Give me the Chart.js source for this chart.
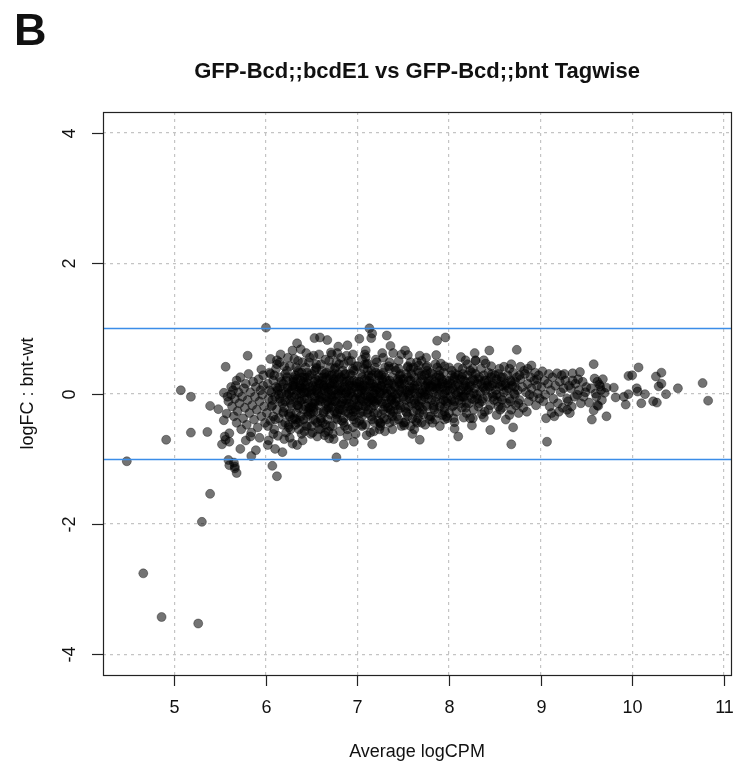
<!DOCTYPE html>
<html>
<head>
<meta charset="utf-8">
<script src="https://cdn.jsdelivr.net/npm/chart.js@4/dist/chart.umd.min.js"></script>
<style>
  html, body { margin: 0; padding: 0; background: #fff; }
  #wrap { width: 749px; height: 767px; }
</style>
</head>
<body>
<div id="wrap"><canvas id="maPlot" width="749" height="767"></canvas></div>
<script>
const panelLetter = "B";
const plotTitle = "GFP-Bcd;;bcdE1 vs GFP-Bcd;;bnt Tagwise";
const xTitle = "Average logCPM";
const yTitle = "logFC : bnt-wt";
const xTicks = [5, 6, 7, 8, 9, 10, 11];
const yTicks = [-4, -2, 0, 2, 4];
const foldLines = [-1, 1];

// average logCPM of each tag
const logCPM = [
  4.48,4.66,4.86,4.91,5.07,5.18,5.18,5.26,5.30,5.36,
  5.39,5.39,5.48,5.54,5.54,5.56,5.57,5.58,5.59,5.59,
  5.60,5.55,5.56,5.60,5.52,5.65,5.60,5.66,5.68,5.66,
  5.68,5.72,5.78,5.83,5.84,5.89,5.80,5.95,6.00,5.62,
  5.62,5.63,5.64,5.65,5.66,5.67,5.68,5.69,5.70,5.71,
  5.72,5.73,5.74,5.75,5.76,5.77,5.78,5.79,5.80,5.81,
  5.82,5.83,5.84,5.85,5.86,5.87,5.88,5.89,5.90,5.91,
  5.92,5.93,5.94,5.95,5.96,5.97,5.98,5.99,5.97,5.93,
  6.01,6.02,6.03,6.04,6.05,6.06,6.07,6.08,6.09,6.10,
  6.11,6.12,6.13,6.14,6.15,6.16,6.17,6.18,6.19,6.20,
  6.21,6.22,6.23,6.24,6.25,6.26,6.27,6.28,6.29,6.30,
  6.02,6.04,6.06,6.08,6.11,6.13,6.15,6.17,6.19,6.21,
  6.23,6.25,6.27,6.29,6.12,6.22,6.18,6.26,6.09,6.14,
  6.05,6.12,6.16,6.07,6.12,6.03,6.02,6.18,6.29,6.34,
  6.29,6.31,6.34,6.38,6.20,6.10,6.24,6.08,6.26,6.15,
  6.31,6.32,6.33,6.34,6.35,6.36,6.37,6.38,6.39,6.40,
  6.41,6.42,6.43,6.44,6.45,6.46,6.47,6.48,6.49,6.50,
  6.51,6.52,6.53,6.54,6.55,6.56,6.57,6.58,6.59,6.60,
  6.32,6.34,6.36,6.38,6.40,6.42,6.44,6.46,6.48,6.50,
  6.52,6.54,6.56,6.58,6.60,6.33,6.37,6.41,6.45,6.49,
  6.53,6.57,6.35,6.47,6.55,6.39,6.51,6.43,6.59,6.31,
  6.49,6.60,6.53,6.59,6.44,6.52,6.40,6.56,6.48,6.36,
  6.61,6.62,6.63,6.64,6.65,6.66,6.67,6.68,6.69,6.70,
  6.71,6.72,6.73,6.74,6.75,6.76,6.77,6.78,6.79,6.80,
  6.81,6.82,6.83,6.84,6.85,6.86,6.87,6.88,6.89,6.90,
  6.91,6.92,6.93,6.94,6.95,6.96,6.97,6.98,6.99,7.00,
  6.62,6.64,6.66,6.68,6.70,6.72,6.74,6.76,6.78,6.80,
  6.82,6.84,6.86,6.88,6.90,6.92,6.94,6.96,6.98,6.63,
  6.67,6.71,6.75,6.79,6.83,6.87,6.91,6.95,6.99,6.65,
  6.69,6.73,6.77,6.81,6.85,6.89,6.93,6.97,6.72,6.64,
  6.69,6.71,6.79,6.89,6.85,6.77,6.67,6.74,6.95,6.82,
  7.01,7.02,7.03,7.04,7.05,7.06,7.07,7.08,7.09,7.10,
  7.11,7.12,7.13,7.14,7.15,7.16,7.17,7.18,7.19,7.20,
  7.21,7.22,7.23,7.24,7.25,7.26,7.27,7.28,7.29,7.30,
  7.31,7.32,7.33,7.34,7.35,7.36,7.37,7.38,7.39,7.40,
  7.41,7.42,7.43,7.44,7.45,7.46,7.47,7.48,7.49,7.50,
  7.02,7.04,7.06,7.08,7.10,7.12,7.14,7.16,7.18,7.20,
  7.22,7.24,7.26,7.28,7.30,7.32,7.34,7.36,7.38,7.40,
  7.42,7.44,7.46,7.48,7.03,7.07,7.11,7.15,7.19,7.23,
  7.13,7.16,7.15,7.02,7.32,7.36,7.39,7.27,7.09,7.09,
  7.11,7.10,7.16,6.96,7.25,7.18,7.05,7.21,7.45,7.30,
  7.51,7.52,7.53,7.54,7.55,7.56,7.57,7.58,7.59,7.60,
  7.61,7.62,7.63,7.64,7.65,7.66,7.67,7.68,7.69,7.70,
  7.71,7.72,7.73,7.74,7.75,7.76,7.77,7.78,7.79,7.80,
  7.81,7.82,7.83,7.84,7.85,7.86,7.87,7.88,7.89,7.90,
  7.91,7.92,7.93,7.94,7.95,7.96,7.97,7.98,7.99,8.00,
  7.53,7.57,7.61,7.65,7.69,7.73,7.77,7.81,7.85,7.89,
  7.93,7.97,7.55,7.63,7.71,7.79,7.87,7.95,7.52,7.55,
  7.87,7.96,7.86,7.91,7.67,7.76,7.68,7.51,7.52,7.74,
  7.93,7.98,7.66,7.58,7.82,7.62,7.70,7.90,7.75,7.60,
  8.01,8.02,8.03,8.04,8.05,8.06,8.07,8.08,8.09,8.10,
  8.11,8.12,8.13,8.14,8.15,8.16,8.17,8.18,8.19,8.20,
  8.21,8.22,8.23,8.24,8.25,8.26,8.27,8.28,8.29,8.30,
  8.31,8.32,8.33,8.34,8.35,8.36,8.37,8.38,8.39,8.40,
  8.41,8.42,8.43,8.44,8.45,8.46,8.47,8.48,8.49,8.50,
  8.03,8.07,8.11,8.15,8.19,8.23,8.27,8.31,8.35,8.39,
  8.43,8.47,8.13,8.18,8.29,8.06,8.10,8.06,8.16,8.23,
  8.44,8.28,8.29,8.38,8.40,8.45,8.26,8.25,8.38,8.20,
  8.51,8.52,8.53,8.54,8.55,8.56,8.57,8.58,8.59,8.60,
  8.62,8.63,8.64,8.65,8.66,8.67,8.68,8.69,8.70,8.71,
  8.72,8.73,8.74,8.75,8.77,8.78,8.80,8.81,8.83,8.84,
  8.86,8.87,8.89,8.90,8.92,8.93,8.95,8.96,8.98,8.99,
  8.52,8.66,8.74,8.60,8.68,8.78,8.90,8.70,8.68,8.55,
  8.58,8.76,8.85,8.94,8.62,8.82,8.88,8.72,8.54,8.97,
  9.02,9.18,9.26,9.35,9.43,9.07,9.06,9.20,9.29,9.29,
  9.37,9.33,9.35,9.49,9.53,9.56,9.62,9.58,9.01,9.03,
  9.04,9.05,9.08,9.10,9.11,9.13,9.14,9.16,9.19,9.21,
  9.22,9.24,9.25,9.27,9.30,9.31,9.34,9.38,9.40,9.42,
  9.44,9.46,9.47,9.50,9.12,9.23,9.09,9.15,9.32,9.41,
  9.59,9.68,9.62,9.65,9.72,9.80,9.60,9.70,9.82,9.91,
  9.96,9.63,9.58,9.72,9.93,9.96,10.00,10.07,10.05,10.06,
  10.14,10.10,10.23,10.27,10.26,10.32,10.29,10.32,10.37,10.50,
  10.77,10.83,9.66,9.64,9.61,9.55,9.67,
  // dense core
  6.21,6.24,6.27,6.30,6.33,6.36,6.39,6.42,6.45,6.48,
  6.51,6.54,6.57,6.60,6.63,6.66,6.69,6.72,6.75,6.78,
  6.81,6.84,6.87,6.90,6.93,6.96,6.99,7.02,7.05,7.08,
  7.11,7.14,7.17,7.20,7.23,7.26,7.29,7.32,7.35,7.38,
  7.41,7.44,7.47,7.50,7.53,7.56,7.59,7.62,7.65,7.68,
  7.71,7.74,7.77,7.80,7.83,7.86,7.89,7.92,7.95,7.98,
  8.01,8.04,8.07,8.10,8.13,8.16,8.19,8.22,8.25,8.28,
  6.22,6.26,6.30,6.34,6.38,6.42,6.46,6.50,6.54,6.58,
  6.62,6.66,6.70,6.74,6.78,6.82,6.86,6.90,6.94,6.98,
  7.02,7.06,7.10,7.14,7.18,7.22,7.26,7.30,7.34,7.38,
  7.42,7.46,7.50,7.54,7.58,7.62,7.66,7.70,7.74,7.78,
  7.82,7.86,7.90,7.94,7.98,8.02,8.06,8.10,8.14,8.18,
  6.23,6.28,6.33,6.38,6.43,6.48,6.53,6.58,6.63,6.68,
  6.73,6.78,6.83,6.88,6.93,6.98,7.03,7.08,7.13,7.18,
  7.23,7.28,7.33,7.38,7.43,7.48,7.53,7.58,7.63,7.68,
  7.73,7.78,7.83,7.88,7.93,7.98,8.03,8.08,8.13,8.18,
  8.23,8.28,8.33,8.38,8.43,8.48,8.53,8.58,8.63,8.68,
  6.25,6.35,6.45,6.55,6.65,6.75,6.85,6.95,7.05,7.15,
  7.25,7.35,7.45,7.55,7.65,7.75,7.85,7.95,8.05,8.15,
  6.64,6.68,6.72,6.76,6.80,6.84,6.88,6.92,6.96,7.00,
  7.04,7.08,7.12,7.16,7.20,7.24,7.28,7.32,7.36,7.40,
  6.32,6.37,6.41,6.46,6.52,6.56,6.61,6.67,6.72,6.77,
  8.32,8.37,8.42,8.47,8.52,8.57,8.62,8.67,8.72,8.77,
  // wider part of the main cloud
  6.05,6.10,6.15,6.20,6.25,6.30,6.35,6.40,6.45,6.50,
  6.55,6.60,6.65,6.70,6.75,6.80,6.85,6.90,6.95,7.00,
  7.05,7.10,7.15,7.20,7.25,7.30,7.35,7.40,7.45,7.50,
  7.55,7.60,7.65,7.70,7.75,7.80,7.85,7.90,7.95,8.00,
  6.07,6.13,6.19,6.28,6.37,6.44,6.53,6.62,6.71,6.81,
  6.91,7.01,7.09,7.17,7.27,7.37,7.47,7.57,7.67,7.77,
  6.31,6.39,6.47,6.56,6.66,6.76,6.86,6.96,7.06,7.16,
  7.26,7.36,7.46,7.56,7.66,7.76,7.86,7.96,8.06,8.16,
  8.26,8.36,8.46,8.56,8.66,8.76,8.86,8.96,6.58,6.68,
  6.78,6.88,6.98,7.08,7.18,7.28,7.38,7.48,7.58,7.68
];

// log fold change of each tag, same order as logCPM
const logFC = [
  -1.04,-2.76,-3.43,-0.71,0.05,-0.05,-0.60,-3.53,-1.97,-0.59,
  -1.54,-0.19,-0.24,0.01,-0.41,0.41,-0.31,-0.05,-0.12,-1.02,
  -0.61,-0.66,-0.71,-0.74,-0.78,-1.06,-1.10,-1.15,0.20,-1.12,
  -1.22,-0.85,-0.72,-0.66,-0.96,-0.87,0.58,0.37,1.01,0.10,
  -0.02,-0.20,0.05,-0.35,-0.08,0.12,-0.45,-0.27,0.02,-0.15,
  0.25,-0.55,-0.05,-0.38,0.08,-0.22,0.15,-0.48,-0.10,0.30,
  -0.30,0.02,-0.60,-0.18,0.18,-0.40,-0.05,0.10,-0.25,-0.52,
  0.22,-0.12,0.05,-0.35,-0.02,0.28,-0.20,-0.45,0.12,-0.68,
  -0.30,0.15,-0.08,0.32,-0.42,0.02,-0.18,0.20,-0.55,-0.05,
  0.38,-0.25,0.08,-0.38,0.25,-0.12,0.00,-0.48,0.15,-0.22,
  0.30,-0.60,-0.02,0.10,-0.32,0.42,-0.15,0.05,-0.40,0.22,
  -0.50,0.05,-0.20,-0.35,0.10,-0.65,-0.08,0.18,-0.28,-0.45,
  0.35,0.00,-0.55,0.12,0.45,0.20,-0.15,-0.10,0.28,-0.02,
  0.53,0.51,0.60,-1.11,-1.27,-0.72,-0.79,-0.90,-0.77,-0.79,
  0.66,0.53,0.77,0.68,-0.70,-0.85,0.55,-0.62,-0.68,0.48,
  -0.05,0.18,-0.30,0.05,-0.18,0.32,-0.42,0.10,-0.10,0.25,
  -0.25,0.02,0.40,-0.50,-0.08,0.15,-0.32,0.28,-0.02,-0.20,
  0.12,-0.40,0.35,-0.12,0.05,-0.28,0.20,-0.55,-0.05,0.45,
  -0.48,0.22,-0.08,-0.35,0.08,-0.58,0.18,-0.15,0.00,0.30,
  -0.22,0.10,-0.45,0.25,-0.12,0.40,0.12,-0.40,0.25,-0.30,
  -0.05,-0.18,0.50,0.48,0.40,-0.62,-0.60,-0.20,0.15,0.10,
  -0.62,-0.54,0.85,0.86,0.62,0.58,-0.72,-0.66,0.55,-0.55,
  -0.02,0.20,-0.28,0.08,-0.15,0.32,-0.40,0.02,-0.08,0.15,
  -0.22,0.28,-0.50,0.05,-0.12,0.40,-0.32,0.12,-0.02,0.22,
  -0.18,0.00,-0.42,0.35,-0.08,0.10,-0.28,0.18,-0.55,0.05,
  -0.15,0.30,-0.35,0.08,-0.05,0.20,-0.22,0.42,-0.45,0.00,
  -0.45,0.30,-0.05,-0.22,0.40,-0.10,0.18,-0.38,-0.15,0.05,
  0.25,-0.25,-0.50,0.02,-0.30,0.12,-0.18,0.35,-0.08,0.12,
  0.22,0.05,-0.28,0.30,0.10,0.00,0.20,-0.35,0.15,-0.60,
  0.50,-0.62,0.48,-0.58,0.45,-0.65,0.50,-0.10,0.60,-0.64,
  -0.69,0.63,0.72,0.74,-0.78,-0.98,0.82,-0.70,0.60,0.55,
  -0.20,0.18,-0.05,0.30,-0.35,0.08,-0.12,0.22,-0.48,0.02,
  0.35,-0.25,0.10,-0.08,0.25,-0.40,0.05,-0.18,0.40,-0.02,
  0.15,-0.30,0.28,-0.55,0.00,0.12,-0.15,0.32,-0.38,0.08,
  -0.05,0.20,-0.22,0.42,-0.45,0.05,-0.10,0.25,-0.28,0.12,
  -0.02,0.35,-0.35,0.00,0.18,-0.18,0.30,-0.50,0.08,-0.08,
  -0.42,0.05,-0.28,0.45,-0.15,0.28,-0.60,0.15,0.00,0.32,
  -0.10,0.20,-0.32,0.05,-0.20,-0.40,0.15,-0.25,-0.05,0.40,
  -0.18,0.22,0.05,0.15,0.12,0.38,-0.05,-0.22,0.10,-0.08,
  1.00,0.92,0.85,0.84,0.89,0.73,0.62,0.62,0.66,0.56,
  0.46,-0.64,-0.78,-0.74,-0.46,-0.44,0.52,0.48,0.50,-0.58,
  0.15,-0.22,0.30,0.02,-0.35,0.20,-0.08,0.38,-0.15,0.08,
  -0.28,0.25,0.00,-0.42,0.12,-0.05,0.32,-0.20,0.18,-0.10,
  0.05,-0.32,0.28,0.10,-0.18,0.35,-0.02,0.20,-0.40,0.12,
  -0.10,0.30,0.02,-0.25,0.18,-0.05,0.40,-0.30,0.08,0.25,
  -0.15,0.15,-0.02,0.32,-0.22,0.05,0.20,-0.08,0.12,-0.30,
  -0.10,0.10,0.40,-0.25,0.00,-0.05,0.15,0.22,-0.12,0.28,
  0.10,-0.35,0.25,-0.15,0.22,0.05,0.15,0.00,0.66,0.59,
  0.81,0.86,0.59,0.46,0.43,0.42,-0.71,-0.49,-0.44,-0.48,
  -0.33,-0.38,-0.38,0.48,-0.45,-0.55,0.50,-0.50,0.55,-0.62,
  0.20,-0.05,0.35,0.08,-0.18,0.25,0.02,-0.28,0.15,0.40,
  -0.10,0.22,0.05,-0.22,0.30,0.10,-0.02,0.18,-0.30,0.28,
  0.05,-0.15,0.35,0.12,-0.08,0.22,-0.25,0.08,0.30,-0.02,
  0.15,-0.20,0.25,0.02,0.38,-0.12,0.10,0.28,-0.28,0.05,
  0.20,-0.05,0.32,0.10,-0.18,0.25,0.00,0.15,-0.10,0.28,
  -0.10,0.30,0.12,-0.05,0.05,0.18,0.00,-0.08,0.15,0.20,
  -0.25,0.12,0.56,0.51,0.51,-0.54,-0.66,-0.44,-0.37,-0.38,
  0.66,0.62,0.50,0.51,0.46,-0.56,-0.38,-0.49,-0.37,0.45,
  0.05,0.22,-0.12,0.30,0.10,-0.05,0.18,-0.22,0.25,0.02,
  0.15,-0.15,0.28,0.08,-0.08,0.20,-0.25,0.12,0.32,0.00,
  0.18,-0.18,0.25,0.05,-0.10,0.22,0.10,-0.22,0.30,0.02,
  0.15,-0.12,0.25,0.08,-0.05,0.20,-0.18,0.12,0.28,-0.08,
  -0.33,-0.33,0.67,0.41,0.45,0.41,0.43,-0.52,-0.78,0.38,
  0.12,-0.30,-0.28,0.32,-0.40,0.35,-0.02,-0.02,-0.20,0.00,
  0.34,0.31,0.30,0.31,0.33,-0.74,-0.38,-0.28,-0.25,-0.08,
  -0.05,0.08,0.20,0.02,-0.14,-0.40,-0.18,0.45,0.10,-0.12,
  0.20,-0.02,0.15,-0.20,0.05,0.25,-0.08,0.12,-0.15,0.18,
  0.02,-0.22,0.08,0.20,-0.12,0.12,-0.20,0.15,-0.02,0.05,
  -0.15,0.18,-0.05,0.10,-0.30,0.28,0.30,-0.35,-0.30,0.22,
  0.23,0.22,0.18,0.11,0.09,0.09,0.00,0.01,-0.06,-0.05,
  -0.01,-0.19,-0.26,-0.35,-0.17,0.27,0.28,0.40,0.08,0.03,
  -0.01,-0.15,-0.12,-0.14,0.26,0.32,0.11,0.15,-0.01,0.08,
  0.16,-0.11,0.05,0.14,-0.05,0.08,-0.10,
  // dense core
  -0.12,0.08,-0.30,0.18,-0.02,-0.22,0.05,0.25,-0.35,0.10,
  -0.15,0.22,0.00,-0.38,0.12,-0.25,0.28,-0.05,0.15,-0.30,
  0.08,-0.12,0.30,-0.20,0.02,-0.40,0.18,-0.10,0.25,-0.02,
  -0.30,0.15,-0.08,0.05,-0.42,0.28,0.00,-0.15,0.20,-0.35,
  0.10,-0.25,0.22,-0.05,0.05,-0.20,0.30,-0.10,0.18,0.02,
  -0.25,0.12,-0.08,0.32,-0.18,0.08,-0.02,0.22,-0.28,0.15,
  0.05,-0.20,0.12,0.28,-0.05,0.20,-0.15,0.10,0.32,-0.10,
  0.02,-0.35,0.12,-0.18,0.20,-0.08,-0.28,0.05,-0.42,0.15,
  -0.08,0.10,-0.32,0.22,0.00,-0.15,0.18,-0.05,0.28,-0.25,
  0.10,-0.18,0.20,-0.05,-0.30,0.08,-0.12,0.25,-0.22,0.02,
  -0.12,0.15,0.22,-0.30,0.00,0.12,-0.18,0.28,-0.02,-0.35,
  0.10,0.25,-0.20,-0.10,0.05,0.15,-0.12,0.02,0.25,-0.22,
  0.25,-0.05,-0.40,0.00,0.12,-0.22,0.18,-0.10,-0.30,0.08,
  0.15,-0.40,0.05,-0.15,-0.25,0.10,-0.30,0.12,0.20,-0.12,
  0.30,-0.25,0.08,0.15,-0.08,0.02,-0.28,0.20,0.08,-0.30,
  0.02,0.10,-0.22,0.12,0.18,-0.15,0.28,-0.02,-0.15,0.12,
  -0.02,0.20,-0.15,0.08,0.18,-0.05,0.15,-0.10,0.05,0.18,
  -0.48,0.35,-0.50,0.38,-0.48,0.38,-0.45,0.38,-0.48,0.35,
  -0.45,0.38,-0.40,0.40,-0.45,0.40,-0.40,0.42,-0.38,0.38,
  0.05,-0.18,0.12,-0.02,-0.25,0.22,-0.10,0.00,0.12,-0.18,
  -0.08,0.05,-0.12,0.28,-0.15,0.02,0.18,0.00,-0.08,-0.15,
  0.28,-0.12,0.18,0.02,-0.28,0.08,0.35,-0.12,-0.20,0.25,
  0.22,-0.08,0.12,0.30,-0.02,0.25,0.12,-0.12,0.10,0.28,
  // wider part of the main cloud
  0.30,-0.40,0.10,0.42,-0.52,0.25,-0.45,0.48,0.32,-0.50,
  0.45,-0.42,0.52,-0.50,0.30,0.45,-0.38,0.50,-0.52,0.42,
  -0.50,0.45,-0.35,0.52,-0.50,0.40,0.48,-0.42,0.38,-0.45,
  0.42,-0.38,0.48,-0.45,0.30,-0.35,0.45,0.35,-0.40,0.40,
  -0.10,0.05,-0.30,-0.18,0.08,0.02,-0.15,0.25,-0.02,-0.25,
  0.15,0.00,-0.20,0.10,0.22,-0.10,-0.22,0.05,-0.12,0.18,
  -0.38,0.32,-0.22,0.02,0.25,-0.12,0.30,-0.28,0.12,-0.10,
  0.12,-0.30,0.28,-0.02,0.35,-0.20,0.10,-0.12,0.22,-0.05,
  0.38,-0.32,0.42,-0.25,0.38,-0.15,0.38,0.22,0.60,-0.58,
  0.62,0.58,-0.62,0.60,-0.58,0.55,-0.55,0.60,-0.50,0.58
];

const points = logCPM.map((x, i) => ({ x: x, y: logFC[i] }));

const FONT = "'Liberation Sans', Arial, Helvetica, sans-serif";

// R-like decorations: box, ticks, labels, abline(h = +-1)
const rDecor = {
  id: "rDecor",
  afterDatasetsDraw(chart) {
    const ctx = chart.ctx;
    const a = chart.chartArea;
    const ys = chart.scales.y;
    ctx.save();
    ctx.strokeStyle = "#3b8de8";
    ctx.lineWidth = 1.5;
    foldLines.forEach(v => {
      const py = Math.round(ys.getPixelForValue(v)) + 0.5;
      ctx.beginPath();
      ctx.moveTo(a.left, py);
      ctx.lineTo(a.right, py);
      ctx.stroke();
    });
    ctx.restore();
  },
  afterDraw(chart) {
    const ctx = chart.ctx;
    const a = chart.chartArea;
    const xs = chart.scales.x;
    const ys = chart.scales.y;
    ctx.save();
    ctx.strokeStyle = "#222";
    ctx.lineWidth = 1.2;
    ctx.strokeRect(a.left + 0.5, a.top + 0.5, a.right - a.left, a.bottom - a.top);

    ctx.fillStyle = "#111";
    ctx.font = "18px " + FONT;
    ctx.textAlign = "center";
    ctx.textBaseline = "middle";
    xTicks.forEach(v => {
      const px = Math.round(xs.getPixelForValue(v)) + 0.5;
      ctx.beginPath();
      ctx.moveTo(px, a.bottom);
      ctx.lineTo(px, a.bottom + 11);
      ctx.stroke();
      ctx.fillText(String(v), px, a.bottom + 33);
    });
    yTicks.forEach(v => {
      const py = Math.round(ys.getPixelForValue(v)) + 0.5;
      ctx.beginPath();
      ctx.moveTo(a.left, py);
      ctx.lineTo(a.left - 11, py);
      ctx.stroke();
      ctx.save();
      ctx.translate(a.left - 33, py);
      ctx.rotate(-Math.PI / 2);
      ctx.fillText(String(v), 0, 0);
      ctx.restore();
    });

    ctx.fillText(xTitle, (a.left + a.right) / 2, a.bottom + 77);
    ctx.save();
    ctx.translate(a.left - 75, (a.top + a.bottom) / 2);
    ctx.rotate(-Math.PI / 2);
    ctx.fillText(yTitle, 0, 0);
    ctx.restore();

    ctx.font = "bold 22px " + FONT;
    ctx.fillText(plotTitle, (a.left + a.right) / 2, 72);

    ctx.font = "bold 45px " + FONT;
    ctx.textAlign = "left";
    ctx.textBaseline = "alphabetic";
    ctx.fillText(panelLetter, 14, 45);
    ctx.restore();
  }
};

new Chart(document.getElementById("maPlot").getContext("2d"), {
  type: "scatter",
  data: {
    datasets: [
      {
        data: points,
        backgroundColor: "rgba(0, 0, 0, 0.55)",
        borderColor: "rgba(0, 0, 0, 0.35)",
        borderWidth: 1,
        pointRadius: 4.5,
        pointHoverRadius: 4.5,
      },
    ],
  },
  options: {
    responsive: false,
    animation: false,
    devicePixelRatio: 1,
    layout: {
      padding: { top: 112, right: 18, left: 0, bottom: 0 },
    },
    scales: {
      x: {
        type: "linear",
        min: 4.22,
        max: 11.08,
        afterBuildTicks: s => { s.ticks = xTicks.map(v => ({ value: v })); },
        afterFit: s => { s.height = 92; },
        ticks: { display: false },
        grid: { color: "#c4c4c4", lineWidth: 1.2, drawTicks: false },
        border: { display: false, dash: [3, 4] },
      },
      y: {
        type: "linear",
        min: -4.32,
        max: 4.32,
        afterBuildTicks: s => { s.ticks = yTicks.map(v => ({ value: v })); },
        afterFit: s => { s.width = 103; },
        ticks: { display: false },
        grid: { color: "#c4c4c4", lineWidth: 1.2, drawTicks: false },
        border: { display: false, dash: [3, 4] },
      },
    },
    plugins: {
      legend: { display: false },
      tooltip: { enabled: false },
    },
  },
  plugins: [rDecor],
});
</script>
</body>
</html>
